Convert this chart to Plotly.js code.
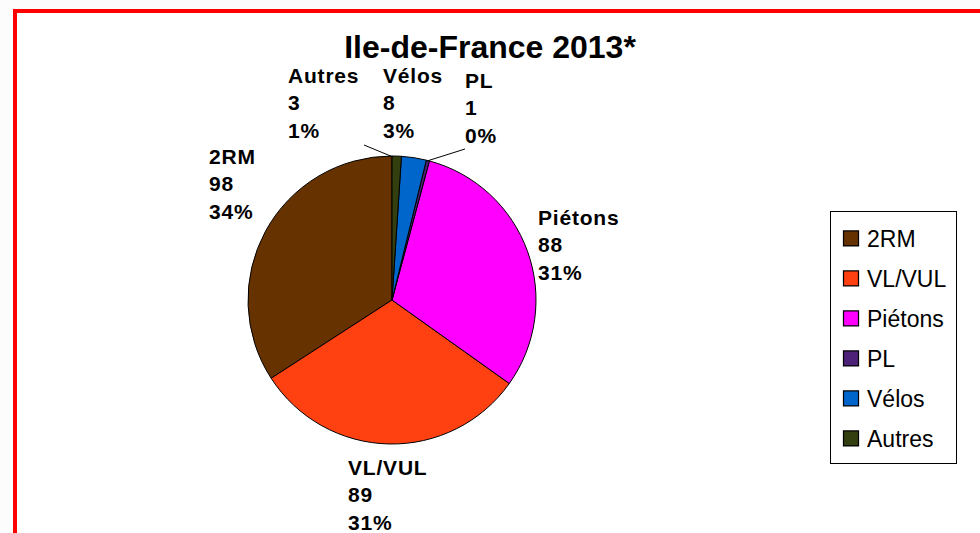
<!DOCTYPE html>
<html>
<head>
<meta charset="utf-8">
<script src="https://cdn.plot.ly/plotly-3.0.1.min.js"></script>
<style>
  html, body { margin: 0; padding: 0; background: #fcfcfc; width: 980px; height: 533px; overflow: hidden; }
  #frame { position: absolute; left: 13px; top: 9px; width: 1000px; height: 560px;
           border-left: 4px solid #ff0000; border-top: 4px solid #ff0000; background: #ffffff; }
  #chart { position: absolute; left: 0; top: 0; width: 980px; height: 533px; }
  .annotation-text { letter-spacing: 0.8px; }
</style>
</head>
<body>
<div id="frame"></div>
<div id="chart"></div>
<script>
// ---- Data ----
const categories = ["2RM", "VL/VUL", "Piétons", "PL", "Vélos", "Autres"];
const values = [98, 89, 88, 1, 8, 3];
const colors = ["#663300", "#FF4011", "#FF00FF", "#4D2177", "#0066CC", "#333F0F"];
const chartTitle = "Ile-de-France 2013*";

// label placement (pixel positions of text blocks: left x, top y)
const labelPos = {
  "2RM":     [207, 143],
  "VL/VUL":  [346, 454],
  "Piétons": [536, 204],
  "PL":      [463, 67],
  "Vélos":   [381, 62],
  "Autres":  [286, 62]
};

const W = 980, H = 533;
const total = values.reduce((a, b) => a + b, 0);
const px = x => x / W;
const py = y => 1 - y / H;

const annotations = categories.map((c, i) => ({
  xref: 'paper', yref: 'paper',
  x: px(labelPos[c][0]), y: py(labelPos[c][1]),
  xanchor: 'left', yanchor: 'top', align: 'left',
  showarrow: false,
  text: '<b>' + c + '<br>' + values[i] + '<br>' + Math.round(values[i] / total * 100) + '%</b>',
  font: { family: 'Liberation Sans, Arial, sans-serif', size: 21, color: '#000000' }
}));

const shapes = [
  { type: 'line', xref: 'paper', yref: 'paper', x0: px(364), y0: py(145), x1: px(393), y1: py(157),
    line: { color: '#000000', width: 1 } },
  { type: 'line', xref: 'paper', yref: 'paper', x0: px(465), y0: py(149), x1: px(427), y1: py(161),
    line: { color: '#000000', width: 1 } }
];

// In counterclockwise mode Plotly starts the first slice at rotation + its own angle;
// shift so the first slice (2RM) begins at 12 o'clock and runs counterclockwise.
const firstSliceAngle = values[0] / total * 360;

const trace = {
  type: 'pie',
  labels: categories,
  values: values,
  sort: false,
  direction: 'counterclockwise',
  rotation: -firstSliceAngle,
  textinfo: 'none',
  hoverinfo: 'label+value+percent',
  marker: { colors: colors, line: { color: '#000000', width: 1 } },
  domain: { x: [px(248), px(536)], y: [py(444), py(156)] },
  automargin: false
};

const layout = {
  width: W, height: H,
  margin: { l: 0, r: 0, t: 0, b: 0 },
  paper_bgcolor: 'rgba(0,0,0,0)',
  plot_bgcolor: 'rgba(0,0,0,0)',
  title: {
    text: '<b>' + chartTitle + '</b>',
    x: 0.5, xref: 'paper', xanchor: 'center',
    y: 1 - 47 / H, yref: 'container', yanchor: 'middle',
    font: { family: 'Liberation Sans, Arial, sans-serif', size: 32, color: '#000000' }
  },
  showlegend: true,
  legend: {
    x: px(830), y: py(211), xanchor: 'left', yanchor: 'top',
    bgcolor: '#ffffff', bordercolor: '#000000', borderwidth: 1,
    font: { family: 'Liberation Sans, Arial, sans-serif', size: 23, color: '#000000' },
    traceorder: 'normal'
  },
  annotations: annotations,
  shapes: shapes
};

Plotly.newPlot('chart', [trace], layout, { displayModeBar: false, staticPlot: true }).then(gd => {
  // widen vertical spacing between legend entries to match the reference
  const step = 40;
  const items = gd.querySelectorAll('.legend .traces');
  if (!items.length) return;
  const parse = el => {
    const m = /translate\(\s*([-\d.]+)[ ,]+([-\d.]+)\s*\)/.exec(el.getAttribute('transform') || '');
    return m ? [parseFloat(m[1]), parseFloat(m[2])] : [0, 0];
  };
  const first = parse(items[0]);
  const oldStep = items.length > 1 ? parse(items[1])[1] - first[1] : step;
  items.forEach((el, i) => {
    const p = parse(el);
    el.setAttribute('transform', 'translate(' + p[0] + ',' + (first[1] + 5 + i * step) + ')');
    // slightly larger swatches, text a little closer
    el.querySelectorAll('.legendpoints path').forEach(pth => {
      const t = pth.getAttribute('transform') || '';
      pth.setAttribute('transform', t + ' scale(1.25)');
    });
    el.querySelectorAll('text.legendtext').forEach(tx => {
      const x = parseFloat(tx.getAttribute('x') || '40');
      tx.setAttribute('x', x - 4);
    });
  });
  const extra = (step - oldStep) * items.length;
  const bg = gd.querySelector('.legend rect.bg');
  if (bg) bg.setAttribute('height', parseFloat(bg.getAttribute('height')) + extra);
  gd.querySelectorAll('clipPath[id^="legend"] rect').forEach(r => {
    r.setAttribute('height', parseFloat(r.getAttribute('height')) + extra);
  });
});
</script>
</body>
</html>
